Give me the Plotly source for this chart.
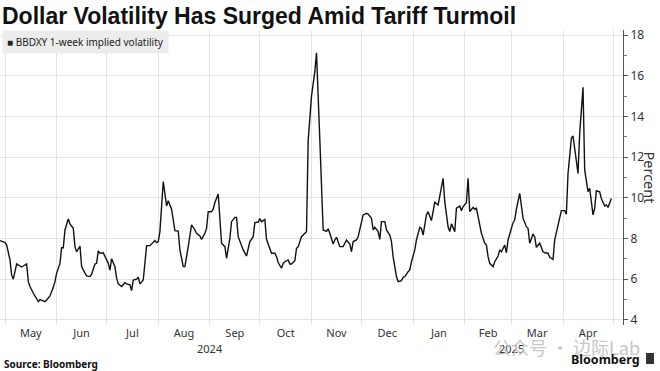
import plotly.graph_objects as go

# ---- data ----
dates = [
    "2024-04-28", "2024-05-01", "2024-05-02", "2024-05-04", "2024-05-05", "2024-05-06",
    "2024-05-08", "2024-05-09", "2024-05-11", "2024-05-12", "2024-05-14", "2024-05-15",
    "2024-05-16", "2024-05-18", "2024-05-20", "2024-05-21", "2024-05-22", "2024-05-24",
    "2024-05-25", "2024-05-26", "2024-05-28", "2024-05-30", "2024-05-31",
    "2024-06-01", "2024-06-03", "2024-06-04", "2024-06-05", "2024-06-06", "2024-06-08",
    "2024-06-09", "2024-06-11", "2024-06-12", "2024-06-13", "2024-06-15", "2024-06-16",
    "2024-06-18", "2024-06-19", "2024-06-21", "2024-06-22", "2024-06-24", "2024-06-25",
    "2024-06-26", "2024-06-27", "2024-06-29",
    "2024-07-01", "2024-07-02", "2024-07-03", "2024-07-04", "2024-07-06", "2024-07-07",
    "2024-07-08", "2024-07-10", "2024-07-12", "2024-07-13", "2024-07-15", "2024-07-16",
    "2024-07-17", "2024-07-19", "2024-07-20", "2024-07-21", "2024-07-23", "2024-07-24",
    "2024-07-25", "2024-07-27", "2024-07-28", "2024-07-30", "2024-07-31",
    "2024-08-01", "2024-08-02", "2024-08-03", "2024-08-04", "2024-08-06", "2024-08-07",
    "2024-08-09", "2024-08-10", "2024-08-11", "2024-08-13", "2024-08-14", "2024-08-16",
    "2024-08-17", "2024-08-19", "2024-08-20", "2024-08-21", "2024-08-23", "2024-08-24",
    "2024-08-26", "2024-08-27", "2024-08-29", "2024-08-30", "2024-08-31",
    "2024-09-02", "2024-09-03", "2024-09-04", "2024-09-06", "2024-09-07", "2024-09-08",
    "2024-09-10", "2024-09-11", "2024-09-13", "2024-09-14", "2024-09-16", "2024-09-17",
    "2024-09-18", "2024-09-20", "2024-09-21", "2024-09-23", "2024-09-24", "2024-09-25",
    "2024-09-27", "2024-09-28", "2024-09-30",
    "2024-10-01", "2024-10-02", "2024-10-04", "2024-10-05", "2024-10-07", "2024-10-08",
    "2024-10-10", "2024-10-11", "2024-10-12", "2024-10-14", "2024-10-15", "2024-10-16",
    "2024-10-18", "2024-10-19", "2024-10-20", "2024-10-22", "2024-10-23", "2024-10-24",
    "2024-10-26", "2024-10-27", "2024-10-28", "2024-10-29", "2024-10-30", "2024-10-31",
    "2024-11-01", "2024-11-03", "2024-11-04", "2024-11-06", "2024-11-07", "2024-11-08",
    "2024-11-10", "2024-11-11", "2024-11-12", "2024-11-14", "2024-11-15", "2024-11-16",
    "2024-11-18", "2024-11-20", "2024-11-21", "2024-11-22", "2024-11-24", "2024-11-25",
    "2024-11-26", "2024-11-28", "2024-11-29",
    "2024-12-01", "2024-12-02", "2024-12-04", "2024-12-05", "2024-12-07", "2024-12-08",
    "2024-12-09", "2024-12-11", "2024-12-12", "2024-12-13", "2024-12-15", "2024-12-16",
    "2024-12-18", "2024-12-19", "2024-12-20", "2024-12-21", "2024-12-22", "2024-12-23",
    "2024-12-25", "2024-12-26", "2024-12-27", "2024-12-29", "2024-12-30", "2024-12-31",
    "2025-01-02", "2025-01-03", "2025-01-05", "2025-01-06", "2025-01-07", "2025-01-09",
    "2025-01-10", "2025-01-12", "2025-01-13", "2025-01-14", "2025-01-16", "2025-01-17",
    "2025-01-19", "2025-01-20", "2025-01-22", "2025-01-23", "2025-01-24", "2025-01-26",
    "2025-01-27", "2025-01-29", "2025-01-30", "2025-01-31",
    "2025-02-02", "2025-02-03", "2025-02-04", "2025-02-06", "2025-02-07", "2025-02-08",
    "2025-02-10", "2025-02-11", "2025-02-13", "2025-02-14", "2025-02-15", "2025-02-16",
    "2025-02-18", "2025-02-19", "2025-02-21", "2025-02-22", "2025-02-23", "2025-02-25",
    "2025-02-26", "2025-02-27",
    "2025-03-01", "2025-03-02", "2025-03-03", "2025-03-04", "2025-03-06", "2025-03-07",
    "2025-03-08", "2025-03-10", "2025-03-11", "2025-03-12", "2025-03-14", "2025-03-15",
    "2025-03-16", "2025-03-18", "2025-03-20", "2025-03-21", "2025-03-23", "2025-03-24",
    "2025-03-26", "2025-03-27", "2025-03-28", "2025-03-30", "2025-03-31",
    "2025-04-02", "2025-04-03", "2025-04-04", "2025-04-06", "2025-04-07", "2025-04-08",
    "2025-04-10", "2025-04-11", "2025-04-13", "2025-04-14", "2025-04-16", "2025-04-17",
    "2025-04-19", "2025-04-20", "2025-04-21", "2025-04-23", "2025-04-24", "2025-04-26",
    "2025-04-27", "2025-04-28", "2025-04-30",
]

vol = [
    7.90, 7.80, 7.68, 6.95, 6.20, 6.00,
    6.75, 6.70, 6.60, 6.65, 6.75, 5.88,
    5.64, 5.31, 5.03, 4.90, 5.00, 4.95,
    4.90, 4.98, 5.18, 5.60, 5.88,
    6.30, 6.78, 7.55, 7.55, 8.42, 8.96,
    8.72, 8.50, 7.60, 7.35, 7.63, 6.62,
    6.30, 6.16, 6.13, 6.25, 6.75, 6.78,
    7.39, 7.28, 7.30,
    6.95, 6.78, 6.45, 7.01, 6.62, 6.05,
    5.77, 5.64, 5.83, 5.77, 5.72, 5.44,
    5.96, 6.00, 6.10, 5.77, 5.96, 6.70,
    7.65, 7.65, 7.72, 7.90, 7.80,
    7.85, 8.34, 9.57, 10.80, 9.60, 9.86,
    9.44, 9.00, 8.39, 8.37, 7.44, 6.62,
    6.62, 7.60, 8.26, 8.67, 8.42, 8.26,
    8.13, 7.96, 8.26, 8.50, 9.32,
    9.32, 9.44, 9.77, 10.19, 8.91, 7.77,
    7.60, 7.03, 8.01, 8.83, 9.04, 9.04,
    8.09, 7.68, 7.44, 7.14, 7.47, 7.85,
    8.09, 8.78, 8.81,
    8.98, 8.83, 8.94, 7.96, 7.52, 7.28,
    7.28, 7.11, 6.82, 6.54, 6.78, 6.86,
    6.95, 6.75, 6.75, 6.91, 7.52, 7.60,
    8.09, 8.17, 8.22, 8.34, 12.80, 14.20,
    15.00, 16.20, 17.13, 12.84, 10.06, 8.42,
    8.35, 8.48, 8.26, 7.73, 7.93, 8.06,
    7.60, 7.60, 7.77, 7.93, 7.73, 7.35,
    7.85, 7.93, 8.09,
    8.75, 9.16, 9.24, 9.20, 9.00, 8.42,
    8.55, 8.34, 7.96, 8.83, 8.83, 8.42,
    8.17, 7.85, 7.11, 6.62, 6.13, 5.88,
    5.93, 6.10, 6.13, 6.37, 6.46, 6.86,
    7.44, 7.93, 8.55, 8.50, 8.17, 9.16,
    9.32, 8.88, 9.25, 9.78, 9.65, 10.06,
    10.96, 9.81, 8.58, 8.34, 8.72, 8.34,
    9.49, 9.60, 9.37, 9.57,
    9.76, 10.96, 9.32, 9.53, 9.44, 9.49,
    8.67, 8.26, 7.77, 7.68, 7.11, 6.78,
    6.62, 6.86, 7.14, 7.44, 7.35, 7.68,
    7.30, 7.93,
    8.50, 8.78, 8.91, 9.44, 10.22, 9.65,
    9.00, 8.58, 8.50, 7.77, 8.22, 8.08,
    7.57, 7.77, 7.35, 7.30, 7.28, 7.08,
    6.98, 7.93, 8.26, 8.94, 9.37,
    9.37, 9.20, 11.20, 12.92, 13.04, 12.35,
    11.20, 13.17, 15.43, 11.37, 10.30, 10.47,
    9.16, 9.49, 10.35, 10.30, 9.97, 9.60,
    9.65, 9.53, 9.97,
]

series_name = "BBDXY 1-week implied volatility"
title_text = "Dollar Volatility Has Surged Amid Tariff Turmoil"
y_ticks = [4, 6, 8, 10, 12, 14, 16, 18]
year_labels = [("2024-09-01", "2024"), ("2025-03-01", "2025")]
x_range = ["2024-04-28", "2025-05-07"]
y_range = [3.75, 18.25]

FONT = "Noto Sans"
GRID = "#e4e4e4"
TXT = "#333333"
PH = 295.0  # plot height in px (for paper offsets)
PW = 623.0

fig = go.Figure()
fig.add_trace(go.Scatter(
    x=dates, y=vol, mode="lines", name=series_name,
    line=dict(color="#111111", width=1.4), showlegend=False,
    hoverinfo="x+y",
))

fig.update_layout(
    width=660, height=371,
    margin=dict(l=0, r=37, t=30, b=46),
    paper_bgcolor="white", plot_bgcolor="white",
    font=dict(family=FONT, color=TXT, size=11),
    title=dict(text="<b>" + title_text + "</b>", x=0.003, xanchor="left",
               y=1 - 16 / 371, yanchor="middle", yref="container",
               font=dict(family="Liberation Sans", size=23, color="#111111")),
    xaxis=dict(
        type="date", range=x_range,
        dtick="M1", tick0="2024-05-01", tickformat="%b", ticklabelmode="period",
        showgrid=True, gridcolor=GRID, gridwidth=1,
        showline=False, zeroline=False, ticks="",
        tickfont=dict(size=11, color=TXT, family=FONT),
    ),
    yaxis=dict(
        side="right", range=y_range, tickvals=y_ticks,
        showgrid=True, gridcolor=GRID, gridwidth=1,
        showline=True, linecolor="#555555", linewidth=1.2,
        ticks="outside", ticklen=4, tickcolor="#555555",
        minor=dict(dtick=1, ticks="outside", ticklen=3, tickcolor="#777777", showgrid=False),
        zeroline=False, tickfont=dict(size=12, color=TXT, family=FONT),
    ),
)

# legend box
fig.add_annotation(
    xref="paper", yref="paper", x=0.003, y=1, xanchor="left", yanchor="top",
    text="\u25a0 " + series_name, showarrow=False,
    font=dict(size=10, color="#222222", family=FONT),
    bgcolor="#ececec", borderpad=4,
)

# y axis title
fig.add_annotation(
    xref="paper", yref="paper", x=1 + 27 / PW, y=0.5, xanchor="center", yanchor="middle",
    text="Percent", textangle=90, showarrow=False,
    font=dict(size=14.5, color=TXT, family=FONT),
)

# year labels
for d, t in year_labels:
    fig.add_annotation(
        x=d, xref="x", yref="paper", y=-14 / PH, yanchor="top",
        text=t, showarrow=False, font=dict(size=11, color=TXT, family=FONT),
    )

# watermark
fig.add_annotation(
    xref="paper", yref="paper", x=1 + 19 / PW, y=-7 / PH, xanchor="right", yanchor="top",
    text="公众号 · 边际Lab", showarrow=False,
    font=dict(size=18, color="#c8c8c8", family="Noto Sans CJK SC"),
)

# footer
fig.add_annotation(
    xref="paper", yref="paper", x=0.003, y=-30 / PH, xanchor="left", yanchor="top",
    text="<b>Source: Bloomberg</b>", showarrow=False,
    font=dict(size=10, color="#111111", family=FONT),
)
fig.add_annotation(
    xref="paper", yref="paper", x=1 + 19 / PW, y=-24 / PH, xanchor="right", yanchor="top",
    text="<b>Bloomberg</b>", showarrow=False,
    font=dict(size=12.5, color="#111111", family=FONT),
)
fig.add_shape(type="rect", xref="paper", yref="paper",
              x0=1 + 23 / PW, x1=1 + 31 / PW, y0=-39 / PH, y1=-28 / PH,
              fillcolor="#333333", line=dict(width=0))

fig.write_html("out.html", config={"displayModeBar": False},
               post_script="document.body.style.margin='0';document.body.style.overflow='hidden';")
